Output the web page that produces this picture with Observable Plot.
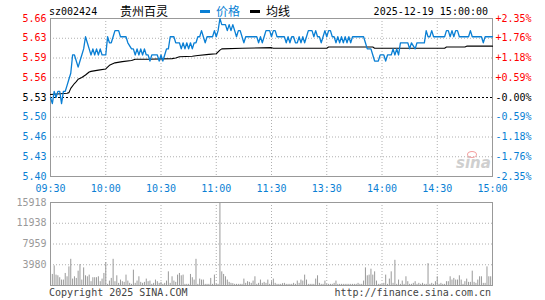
<!DOCTYPE html>
<html><head><meta charset="utf-8">
<script src="https://cdn.jsdelivr.net/npm/d3@7"></script>
<script src="https://cdn.jsdelivr.net/npm/@observablehq/plot@0.6"></script>
<style>
body{margin:0;background:#fff;}
#chart{position:relative;width:545px;height:300px;overflow:hidden;background:#fff;font-family:"DejaVu Sans Mono",monospace;}
#chart svg{position:absolute;left:0;top:0;}
.t{position:absolute;white-space:nowrap;font-size:10px;line-height:10px;font-family:"DejaVu Sans Mono",monospace;}
.cjk{font-family:"Noto Sans CJK SC",sans-serif;font-size:12px;line-height:12px;}
</style></head><body><div id="chart"></div>
<script>
// ---- data ----
const symbol = "sz002424";
const stockName = "贵州百灵";
const legendPrice = "价格";
const legendAvg = "均线";
const stamp = "2025-12-19 15:00:00";
const copyright = "Copyright 2025 SINA.COM";
const siteUrl = "http://finance.sina.com.cn";
const prevClose = 5.53;
const priceTickValues = [5.66, 5.6275, 5.595, 5.5625, 5.53, 5.4975, 5.465, 5.4325, 5.40];
const priceTickLabels = ["5.66","5.63","5.59","5.56","5.53","5.50","5.46","5.43","5.40"];
const pctTickLabels = ["+2.35%","+1.76%","+1.18%","+0.59%","-0.00%","-0.59%","-1.18%","-1.76%","-2.35%"];
const timeTickMinutes = [0, 30, 60, 90, 120, 150, 180, 210, 240];
const timeTickLabels = ["09:30","10:00","10:30","11:00","11:30","13:30","14:00","14:30","15:00"];
const volumeMax = 15918;
const volumeTickValues = [15918, 11938, 7959, 3980];

// price: [minute index since 09:30 (lunch removed), price]
const priceTrace = [
[0,5.53],[1,5.52],[2,5.54],[3,5.53],[4,5.54],[5,5.54],[6,5.52],[7,5.54],[8,5.54],[9,5.55],
[10,5.56],[11,5.57],[12,5.60],[13,5.60],[14,5.59],[15,5.58],[16,5.59],[17,5.60],[18,5.61],[19,5.63],
[20,5.62],[21,5.61],[22,5.60],[23,5.61],[24,5.60],[25,5.61],[26,5.60],[27,5.61],[28,5.60],[30,5.60],
[31,5.63],[32,5.62],[33,5.62],[34,5.63],[35,5.64],[37,5.64],[38,5.63],[41,5.63],[42,5.62],[44,5.61],
[45,5.61],[46,5.60],[47,5.61],[48,5.60],[49,5.61],[50,5.60],[51,5.61],[52,5.60],[53,5.60],[54,5.59],
[55,5.60],[58,5.60],[59,5.59],[60,5.60],[61,5.59],[62,5.60],[63,5.61],[64,5.61],[65,5.63],[67,5.63],
[68,5.62],[70,5.62],[71,5.61],[72,5.62],[73,5.61],[74,5.62],[75,5.61],[76,5.62],[77,5.61],[78,5.62],
[79,5.62],[80,5.63],[81,5.63],[82,5.64],[83,5.63],[84,5.62],[85,5.63],[88,5.63],[89,5.64],[90,5.63],
[91,5.64],[92,5.66],[93,5.65],[95,5.65],[96,5.64],[97,5.65],[98,5.64],[99,5.65],[100,5.64],[101,5.63],
[102,5.64],[103,5.64],[104,5.63],[105,5.62],[106,5.63],[112,5.63],[113,5.62],[114,5.63],[115,5.62],[116,5.63],
[117,5.64],[119,5.64],[120,5.63],[121,5.64],[122,5.64],[123,5.63],[127,5.63],[128,5.62],[129,5.63],[130,5.62],
[131,5.63],[132,5.63],[133,5.62],[134,5.62],[135,5.63],[136,5.62],[137,5.63],[138,5.62],[139,5.63],[140,5.64],
[142,5.64],[143,5.63],[144,5.64],[145,5.63],[146,5.63],[147,5.62],[148,5.63],[149,5.64],[150,5.63],[151,5.64],
[152,5.64],[153,5.63],[154,5.63],[155,5.62],[156,5.63],[157,5.62],[158,5.63],[159,5.62],[160,5.63],[161,5.62],
[162,5.63],[163,5.62],[164,5.63],[170,5.63],[171,5.62],[172,5.61],[174,5.61],[175,5.60],[176,5.59],[178,5.59],
[179,5.60],[181,5.60],[182,5.59],[183,5.60],[185,5.60],[186,5.61],[187,5.60],[188,5.61],[189,5.60],[190,5.62],
[194,5.62],[195,5.61],[196,5.62],[198,5.61],[199,5.62],[203,5.62],[204,5.64],[205,5.63],[206,5.63],[207,5.64],
[208,5.63],[214,5.63],[215,5.64],[216,5.64],[217,5.63],[218,5.64],[219,5.63],[220,5.64],[221,5.64],[222,5.63],
[227,5.63],[228,5.64],[229,5.63],[234,5.63],[235,5.62],[236,5.63],[240,5.63]
];

// average price line: [minute, price]
const avgTrace = [
[0,5.535],[9,5.537],[10,5.538],[11,5.545],[13,5.553],[14,5.556],[15,5.560],[17,5.563],[19,5.567],[21,5.572],
[22,5.573],[26,5.575],[30,5.577],[31,5.580],[32,5.583],[35,5.587],[39,5.589],[44,5.591],[46,5.593],[53,5.593],
[66,5.594],[68,5.595],[70,5.597],[77,5.598],[80,5.599],[86,5.601],[90,5.602],[92,5.608],[93,5.610],[104,5.611],
[120,5.612],[121,5.611],[150,5.611],[151,5.613],[175,5.613],[176,5.611],[214,5.611],[215,5.613],[225,5.613],[226,5.6145],
[240,5.6145]
];

// volume per minute (index 0..239)
const volumes = [
2310,2120,3760,1990,1860,1490,1040,1040,2310,1670,
3570,5020,1230,1670,1360,2750,4010,1040,3380,1860,
1670,1990,730,1490,1490,1490,1670,730,1230,2310,
4390,220,850,1360,5020,730,1860,410,1040,730,
600,1990,850,410,220,2940,410,850,1670,600,
410,600,1230,730,850,220,410,1040,730,410,
600,220,410,850,2620,410,1670,850,600,1990,
2310,1860,1990,220,220,220,2120,1490,1040,5020,
220,1230,1040,1040,220,220,220,1360,220,1990,
220,220,15918,2620,2120,1670,1040,600,410,350,
220,220,220,220,220,1230,410,730,600,410,
850,1670,220,410,1040,410,600,410,1040,220,
730,1230,410,220,220,220,350,410,220,220,
220,220,410,220,850,410,1040,850,1990,1040,
220,220,220,220,1230,1860,410,220,220,850,
220,220,220,220,410,850,220,220,220,220,
220,220,220,220,220,220,220,410,220,220,
850,3380,1860,1990,3130,1990,2620,850,220,220,
220,410,1990,220,1230,2620,410,4830,220,1040,
220,850,220,1670,730,220,220,410,730,220,
410,220,410,220,220,4200,220,410,220,730,
1670,220,410,220,220,730,730,1670,1040,1360,
1040,1040,1860,1040,220,730,1230,600,600,2750,
600,410,1040,1670,1670,410,410,3570,1670,1670
];

// ---- styles ----
const RED = "#ff0000", BLUE = "#0a7fd4", GRAY = "#999999", GRID = "#b0b0b0";
const colorFor = v => Math.abs(v - prevClose) < 1e-9 ? "#000000" : (v > prevClose ? RED : BLUE);

const priceData = priceTrace.map(([m, p]) => ({m, p}));
const avgData = avgTrace.map(([m, p]) => ({m, p}));
const volData = volumes.map((v, i) => ({m: i, v}));
const priceTicks = priceTickValues.map((v, i) => ({v, label: priceTickLabels[i], pct: pctTickLabels[i], c: colorFor(v)}));
const innerPriceTicks = priceTickValues.filter((v, i) => i > 0 && i < priceTickValues.length - 1 && v !== prevClose);
const innerTimes = timeTickMinutes.slice(1, -1);

const W = 545, H = 300;
const common = {
  width: W, height: H, marginLeft: 50, marginRight: 53,
  style: {background: "transparent", fontFamily: "DejaVu Sans Mono, monospace", fontSize: "10px", overflow: "visible"}
};

const pricePlot = Plot.plot({
  ...common,
  marginTop: 18, marginBottom: 124,
  x: {domain: [0, 240], label: null},
  y: {domain: [priceTickValues[priceTickValues.length - 1], priceTickValues[0]], axis: null, label: null},
  color: {type: "identity"},
  marks: [
    Plot.ruleY(innerPriceTicks, {stroke: GRID, strokeDasharray: "1,2"}),
    Plot.ruleX(innerTimes, {stroke: GRID, strokeDasharray: "1,2"}),
    Plot.ruleY([prevClose], {stroke: "#000", strokeDasharray: "2,2"}),
    Plot.frame({stroke: GRAY}),
    Plot.axisX(timeTickMinutes, {tickSize: 0, tickPadding: 8, fill: BLUE, label: null, tickFormat: (d) => timeTickLabels[timeTickMinutes.indexOf(d)]}),
    Plot.text(priceTicks, {y: "v", text: "label", fill: "c", frameAnchor: "left", dx: -4, textAnchor: "end"}),
    Plot.text(priceTicks, {y: "v", text: "pct", fill: "c", frameAnchor: "right", dx: 3, textAnchor: "start"}),
    Plot.line(avgData, {x: "m", y: "p", stroke: "#000", strokeWidth: 1.1}),
    Plot.line(priceData, {x: "m", y: "p", stroke: BLUE, strokeWidth: 1.3})
  ]
});

const volPlot = Plot.plot({
  ...common,
  marginTop: 202, marginBottom: 15,
  x: {domain: [0, 240], axis: null, label: null},
  y: {domain: [0, volumeMax], axis: null, label: null},
  marks: [
    Plot.ruleY(volumeTickValues.slice(1), {stroke: GRID, strokeDasharray: "1,2"}),
    Plot.ruleX(innerTimes, {stroke: GRID, strokeDasharray: "1,2"}),
    Plot.ruleX(volData, {x: "m", y1: 0, y2: "v", stroke: "#999", strokeWidth: 1}),
    Plot.frame({stroke: GRAY}),
    Plot.text(volumeTickValues, {y: d => d, text: d => String(d), fill: "#999", frameAnchor: "left", dx: -4, textAnchor: "end"})
  ]
});

const chart = document.getElementById("chart");
chart.appendChild(pricePlot);
chart.appendChild(volPlot);

function addText(txt, left, top, cls, color, anchorRight) {
  const s = document.createElement("div");
  s.className = "t " + (cls || "");
  s.textContent = txt;
  s.style.top = top + "px";
  if (anchorRight) s.style.right = (W - left) + "px"; else s.style.left = left + "px";
  if (color) s.style.color = color;
  chart.appendChild(s);
  return s;
}
function addBar(left, top, w, h, color) {
  const d = document.createElement("div");
  Object.assign(d.style, {position: "absolute", left: left + "px", top: top + "px", width: w + "px", height: h + "px", background: color});
  chart.appendChild(d);
}
addText(symbol, 49, 6.5, "", "#000");
addText(stockName, 120, 4.5, "cjk", "#000");
addBar(200, 9.5, 10, 3, BLUE);
addText(legendPrice, 216, 4.5, "cjk", BLUE);
addBar(250, 9.5, 10, 3, "#000");
addText(legendAvg, 266, 4.5, "cjk", "#000");
addText(stamp, 488, 6.5, "", "#000", true);
addText(copyright, 49, 287.5, "", "#444");
addText(siteUrl, 491, 287.5, "", "#444", true);
const logo = addText("sina", 456, 156, "", "#cfcfcf");
Object.assign(logo.style, {fontFamily: "DejaVu Sans, sans-serif", fontStyle: "italic", fontWeight: "bold", fontSize: "15px", lineHeight: "15px"});
const eye = document.createElement("div");
Object.assign(eye.style, {position: "absolute", left: "467px", top: "151px", width: "8px", height: "5px", borderRadius: "50%", border: "1.5px solid #f4a0a0"});
chart.appendChild(eye);
</script></body></html>
